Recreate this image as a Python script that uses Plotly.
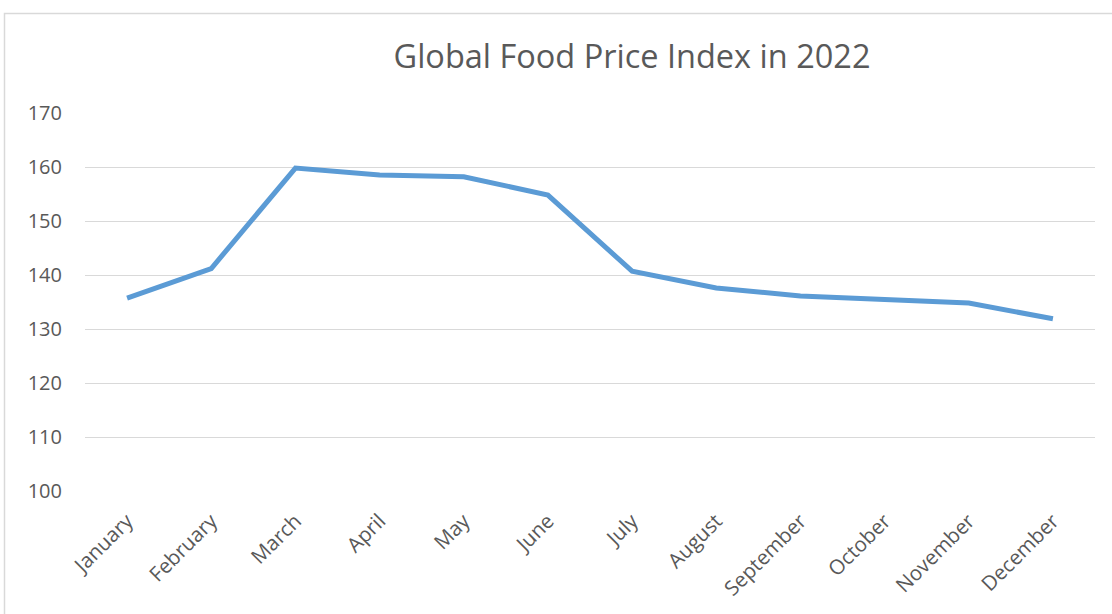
import plotly.graph_objects as go

months = ["January", "February", "March", "April", "May", "June", "July",
          "August", "September", "October", "November", "December"]
index_values = [135.7, 141.2, 159.8, 158.5, 158.2, 154.8, 140.7, 137.6, 136.1, 135.5, 134.8, 131.9]
y_ticks = [100, 110, 120, 130, 140, 150, 160, 170]

fig = go.Figure()
fig.add_trace(go.Scatter(
    x=months, y=index_values, mode="lines",
    line=dict(color="#5B9BD5", width=5, shape="linear"),
    showlegend=False,
))

L, R, T, B = 85, 17, 113, 123
W, H = 1112, 614
pw, ph = W - L - R, H - T - B

fig.add_shape(type="rect", xref="paper", yref="paper",
              x0=(4.5 - L) / pw, x1=(1125 - L) / pw,
              y0=(H - B - 625) / ph, y1=(H - B - 13.5) / ph,
              line=dict(color="#D9D9D9", width=1.5), fillcolor="rgba(0,0,0,0)", layer="below")

fig.update_layout(
    width=W, height=H,
    margin=dict(l=L, r=R, t=T, b=B),
    paper_bgcolor="white", plot_bgcolor="white",
    title=dict(text="Global Food Price Index in 2022", x=632 / W, xanchor="center",
               y=1 - 57 / H, yanchor="middle",
               font=dict(family="Open Sans", size=32.5, color="#595959")),
    font=dict(family="Open Sans", size=20, color="#595959"),
)
fig.update_xaxes(tickangle=-45, showgrid=False, showline=False, ticks="",
                 tickfont=dict(size=20.5, color="#595959"), range=[-0.5, 11.5],
                 ticklabelstandoff=13)
fig.update_yaxes(range=[100, 170], tickvals=y_ticks, showgrid=True, gridcolor="#D9D9D9",
                 gridwidth=1, zeroline=False, showline=False, ticks="",
                 tickfont=dict(size=20, color="#595959"), ticklabelstandoff=22)

fig.write_html("out.html", config={"displayModeBar": False},
               post_script="document.body.style.margin='0';")
